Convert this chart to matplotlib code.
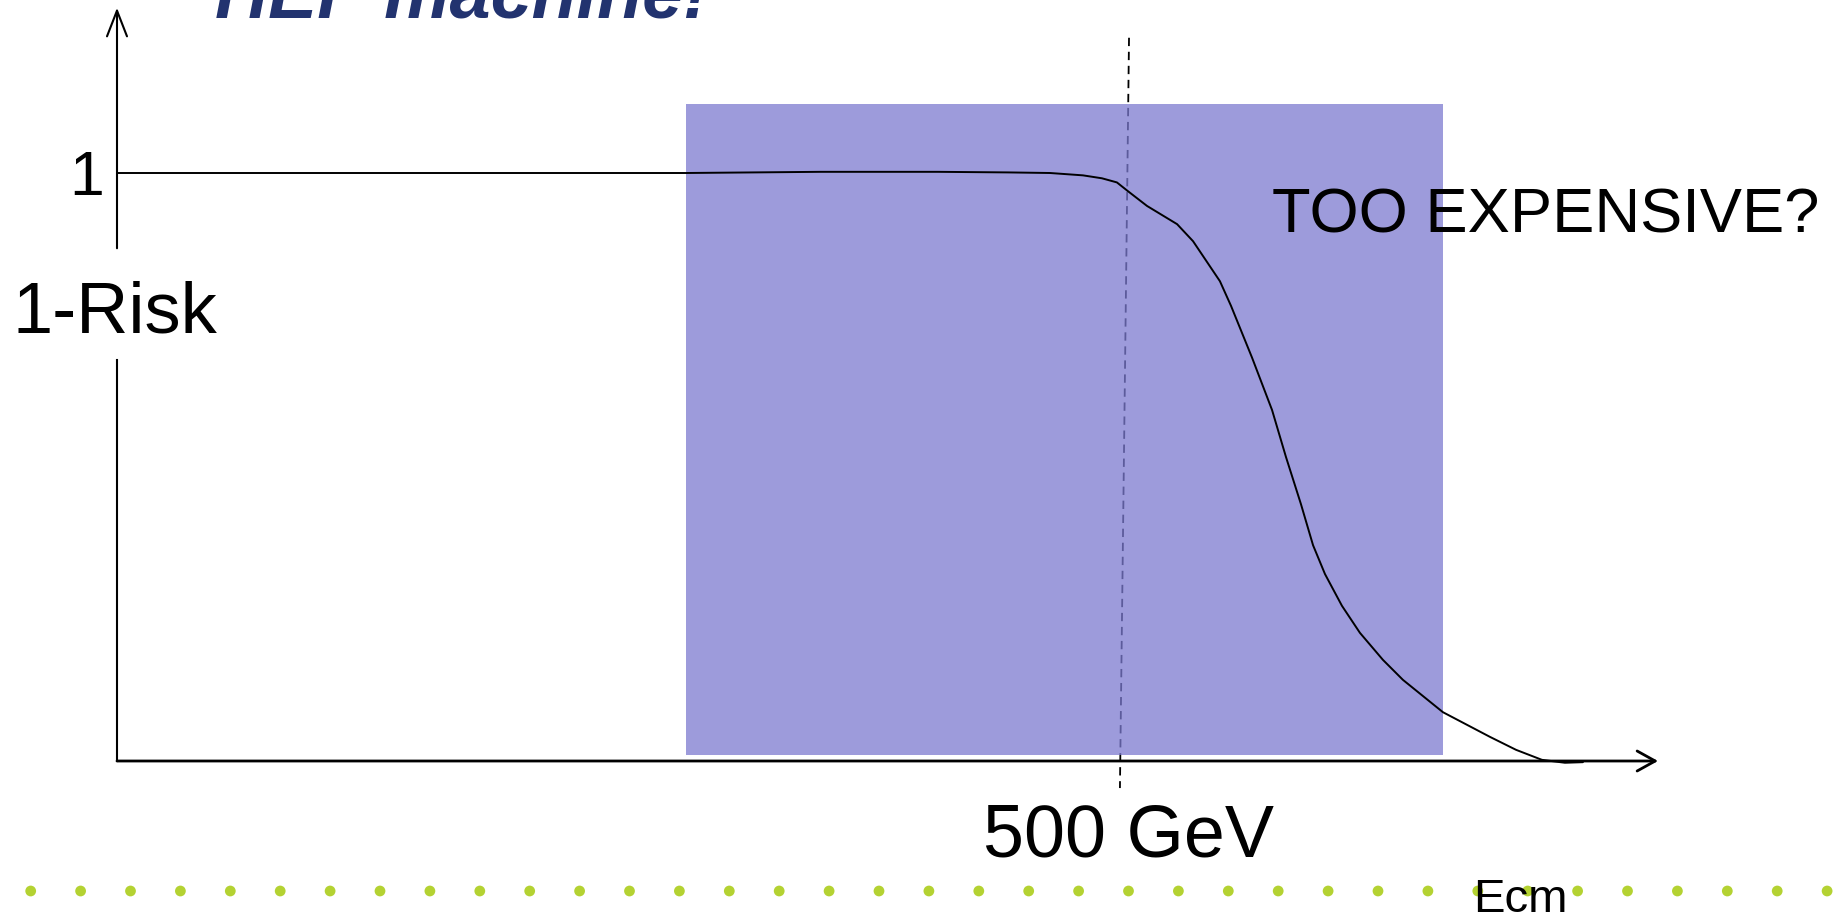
import numpy as np
import matplotlib
matplotlib.use("Agg")
import matplotlib.pyplot as plt
from matplotlib.patches import Rectangle

plt.rcParams['font.family'] = ['Liberation Sans', 'DejaVu Sans']
plt.rcParams['lines.scale_dashes'] = False

# curve: 1-Risk vs centre-of-mass energy (GeV)
ecm = [0, 281.7, 348.3, 406.3, 441.1, 461.9, 478.2, 487.6, 495.0, 500.5, 509.9,
       524.8, 532.7, 546.0, 551.5, 561.9, 571.8, 578.7, 586.1, 592.1, 598.0,
       606.4, 615.3, 626.7, 636.6, 656.4, 679.7, 692.6, 705.4, 716.8, 725.7]
one_minus_risk = [1.0, 1.000, 1.002, 1.002, 1.001, 1.000, 0.996, 0.991, 0.984, 0.969, 0.944,
                  0.913, 0.884, 0.816, 0.774, 0.686, 0.597, 0.517, 0.437, 0.367, 0.318,
                  0.264, 0.218, 0.172, 0.138, 0.083, 0.041, 0.019, 0.002, -0.003, -0.002]

# shaded energy window and the 500 GeV marker
window_ecm = (281.7, 656.4)
window_val = (0.010, 1.117)
marker_ecm = [501.0, 496.5]
marker_val = [1.23, -0.046]

# axis extents (arrow tips) and the label gap in the y axis
x_axis_end = 762.9
y_axis_end = 1.281
y_gap = (0.682, 0.872)

# pixel mapping of the slide: 2.02 px per GeV, 588 px per unit
W, H = 1838, 914
px_gev, px_unit = 2.02, 588.0
x0_px, y0_px = 117, 761

fig = plt.figure(figsize=(W / 100, H / 100), dpi=100)
ax = fig.add_axes([0, 0, 1, 1])
ax.set_xlim(-x0_px / px_gev, (W - x0_px) / px_gev)
ax.set_ylim(-(H - y0_px) / px_unit, y0_px / px_unit)
ax.axis('off')

# dashed 500 GeV line sits under the translucent window
ax.plot(marker_ecm, marker_val, color='black', lw=1.3, dashes=(6, 4.1), zorder=1)
ax.add_patch(Rectangle((window_ecm[0], window_val[0]),
                       window_ecm[1] - window_ecm[0], window_val[1] - window_val[0],
                       facecolor=(124/255, 122/255, 208/255), alpha=0.75,
                       edgecolor='none', zorder=2))

# the curve
ax.plot(ecm, one_minus_risk, color='black', lw=1.4, zorder=3,
        solid_joinstyle='round', solid_capstyle='round')

# axes with open arrow heads
ax.annotate('', xy=(x_axis_end, 0), xytext=(0, 0),
            arrowprops=dict(arrowstyle='->,head_length=1.3,head_width=0.72',
                            lw=2.0, color='black', shrinkA=0, shrinkB=0,
                            mutation_scale=10), zorder=3)
ax.plot([0, 0], [0, y_gap[0]], color='black', lw=1.5, zorder=3)
ax.annotate('', xy=(0, y_axis_end), xytext=(0, y_gap[1]),
            arrowprops=dict(arrowstyle='->,head_length=1.85,head_width=0.72',
                            lw=1.5, color='black', shrinkA=0, shrinkB=0,
                            mutation_scale=10), zorder=3)

# labels
ax.text(-6.4, 0.963, '1', fontsize=45, ha='right', va='baseline')
ax.text(-51.5, 0.728, '1-Risk', fontsize=52, ha='left', va='baseline')
ax.text(500.5, -0.163, '500 GeV', fontsize=53, ha='center', va='baseline')
ax.text(571.8, 0.898, 'TOO EXPENSIVE?', fontsize=45.5, ha='left', va='baseline', zorder=4)

# slide leftovers: cut-off title, dotted footer, Ecm label
fig.text(215 / W, 1 - 17 / H, 'HEP machine!', fontsize=53, fontweight='bold',
         fontstyle='italic', color='#22336F', ha='left', va='baseline')
dot_x = (30.7 + 49.9 * np.arange(37)) / W
ax.scatter(dot_x, np.full(dot_x.size, 1 - 891 / H), s=60, color='#B4D232',
           edgecolors='none', transform=fig.transFigure, zorder=1)
fig.text(1473 / W, 1 - 912 / H, 'Ecm', fontsize=34, ha='left', va='baseline', zorder=5)

fig.savefig('out.png', dpi=100)
